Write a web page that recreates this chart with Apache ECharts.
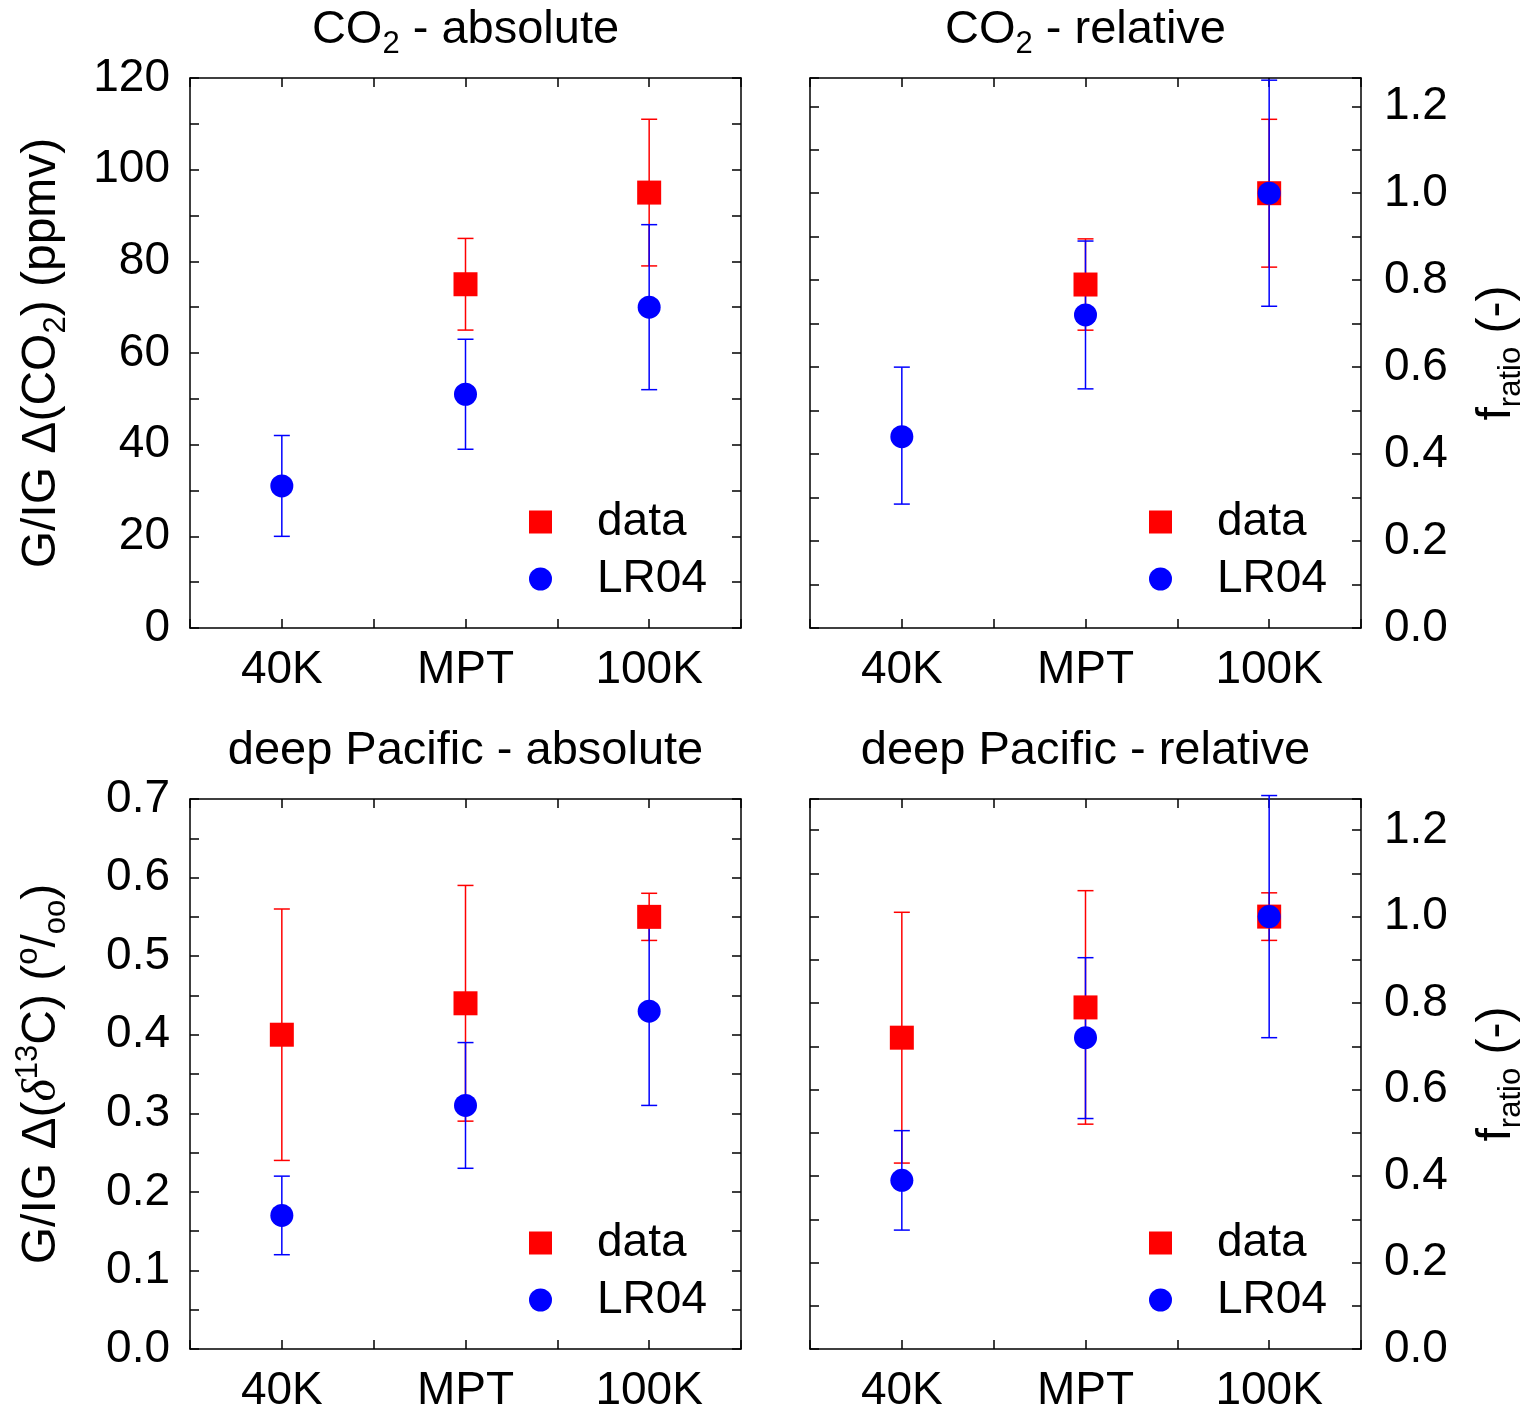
<!DOCTYPE html>
<html>
<head>
<meta charset="utf-8">
<script src="https://cdn.jsdelivr.net/npm/echarts@6/dist/echarts.min.js"></script>
<style>
  html, body { margin: 0; background: #fff; }
  #chart { width: 1527px; height: 1412px; }
</style>
</head>
<body>
<div id="chart"></div>
<script>
const periods = ['40K', 'MPT', '100K'];

// CO2 - absolute (ppmv)
const co2AbsData = [null, 75, 95];
const co2AbsDataLo = [null, 65, 79];
const co2AbsDataHi = [null, 85, 111];
const co2AbsLR04 = [31, 51, 70];
const co2AbsLR04Lo = [20, 39, 52];
const co2AbsLR04Hi = [42, 63, 88];

// CO2 - relative (f_ratio)
const co2RelData = [null, 0.79, 1.0];
const co2RelDataLo = [null, 0.685, 0.83];
const co2RelDataHi = [null, 0.895, 1.17];
const co2RelLR04 = [0.44, 0.72, 1.0];
const co2RelLR04Lo = [0.285, 0.55, 0.74];
const co2RelLR04Hi = [0.60, 0.89, 1.26];

// deep Pacific - absolute (permil)
const pacAbsData = [0.40, 0.44, 0.55];
const pacAbsDataLo = [0.24, 0.29, 0.52];
const pacAbsDataHi = [0.56, 0.59, 0.58];
const pacAbsLR04 = [0.17, 0.31, 0.43];
const pacAbsLR04Lo = [0.12, 0.23, 0.31];
const pacAbsLR04Hi = [0.22, 0.39, 0.55];

// deep Pacific - relative (f_ratio)
const pacRelData = [0.72, 0.79, 1.0];
const pacRelDataLo = [0.43, 0.52, 0.945];
const pacRelDataHi = [1.01, 1.06, 1.055];
const pacRelLR04 = [0.39, 0.72, 1.0];
const pacRelLR04Lo = [0.275, 0.533, 0.72];
const pacRelLR04Hi = [0.505, 0.905, 1.28];

const FONT = "'Liberation Sans', Arial, sans-serif";
const RED = '#ff0000';
const BLUE = '#0000ff';
const W = 551, H = 550;

// rich text styles: n normal, s subscript, p superscript, i italic greek
const makeRich = size => ({
  n: { fontSize: size, fontFamily: FONT, color: '#000' },
  s: { fontSize: Math.round(size * 0.65), fontFamily: FONT, color: '#000', padding: [Math.round(size * 0.6), 0, 0, 0] },
  p: { fontSize: Math.round(size * 0.65), fontFamily: FONT, color: '#000', padding: [0, 0, Math.round(size * 0.56), 0] },
  i: { fontSize: size, fontFamily: "'Liberation Serif', serif", fontStyle: 'italic', color: '#000' }
});
const titleRich = makeRich(47);
const nameRich = makeRich(48);

const everyStep = (step, digits) => v => {
  const q = v / step;
  return Math.abs(q - Math.round(q)) < 1e-6 ? v.toFixed(digits) : '';
};

const ratioName = '{n|f}{s|ratio}{n| (-)}';
const panels = [
  { left: 190, top: 78, title: '{n|CO}{s|2}{n| - absolute}', side: 'left', max: 120, step: 10,
    fmt: everyStep(20, 0), name: '{n|G/IG \u0394(CO}{s|2}{n|) (ppmv)}',
    d: [co2AbsData, co2AbsDataLo, co2AbsDataHi], l: [co2AbsLR04, co2AbsLR04Lo, co2AbsLR04Hi] },
  { left: 810, top: 78, title: '{n|CO}{s|2}{n| - relative}', side: 'right', max: 1.265, step: 0.1,
    fmt: everyStep(0.2, 1), name: ratioName,
    d: [co2RelData, co2RelDataLo, co2RelDataHi], l: [co2RelLR04, co2RelLR04Lo, co2RelLR04Hi] },
  { left: 190, top: 799, title: '{n|deep Pacific - absolute}', side: 'left', max: 0.7, step: 0.05,
    fmt: everyStep(0.1, 1), name: '{n|G/IG \u0394(}{i|\u03b4}{p|13}{n|C) (}{p|o}{n|/}{s|oo}{n|)}',
    d: [pacAbsData, pacAbsDataLo, pacAbsDataHi], l: [pacAbsLR04, pacAbsLR04Lo, pacAbsLR04Hi] },
  { left: 810, top: 799, title: '{n|deep Pacific - relative}', side: 'right', max: 1.272, step: 0.1,
    fmt: everyStep(0.2, 1), name: ratioName,
    d: [pacRelData, pacRelDataLo, pacRelDataHi], l: [pacRelLR04, pacRelLR04Lo, pacRelLR04Hi] }
];

const line = { color: '#000', width: 1.5 };
const grid = [], xAxis = [], yAxis = [], series = [], legend = [], graphic = [];

function errorBars(lo, hi, color, k) {
  return {
    type: 'custom', xAxisIndex: 2 * k, yAxisIndex: 2 * k, z: 2, silent: true,
    data: lo.map((v, i) => v == null ? null : [i + 1, v, hi[i]]).filter(Boolean),
    renderItem(params, api) {
      const a = api.coord([api.value(0), api.value(1)]);
      const b = api.coord([api.value(0), api.value(2)]);
      const c = 8, st = { stroke: color, lineWidth: 1.5 };
      return { type: 'group', children: [
        { type: 'line', shape: { x1: a[0], y1: a[1], x2: b[0], y2: b[1] }, style: st },
        { type: 'line', shape: { x1: a[0] - c, y1: a[1], x2: a[0] + c, y2: a[1] }, style: st },
        { type: 'line', shape: { x1: b[0] - c, y1: b[1], x2: b[0] + c, y2: b[1] }, style: st }
      ] };
    }
  };
}

const points = vals => vals.map((v, i) => v == null ? null : [i + 1, v]).filter(Boolean);

panels.forEach((p, k) => {
  grid.push({ left: p.left, top: p.top, width: W, height: H, outerBoundsMode: 'none', containLabel: false });

  const xBase = {
    gridIndex: k, type: 'value', min: 0.5, max: 3.5, interval: 0.5,
    axisLine: { onZero: false, lineStyle: line },
    axisTick: { inside: true, length: 9, lineStyle: line },
    splitLine: { show: false }
  };
  xAxis.push({ ...xBase, position: 'bottom',
    axisLabel: { margin: 19, fontSize: 46, fontFamily: FONT, color: '#000',
      formatter: v => Math.abs(v - Math.round(v)) < 1e-6 ? (periods[Math.round(v) - 1] || '') : '' } });
  xAxis.push({ ...xBase, position: 'top', axisLabel: { show: false } });

  const yBase = {
    gridIndex: k, type: 'value', min: 0, max: p.max, interval: p.step,
    axisLine: { onZero: false, lineStyle: line },
    axisTick: { inside: true, length: 9, lineStyle: line },
    splitLine: { show: false }
  };
  const labelled = {
    axisLabel: { margin: p.side === 'left' ? 20 : 23, fontSize: 46, fontFamily: FONT, color: '#000', formatter: p.fmt },
    name: p.name, nameLocation: 'middle', nameRotate: 90,
    nameGap: p.side === 'left' ? 118 : 106,
    nameTextStyle: { rich: nameRich }
  };
  const bare = { axisLabel: { show: false } };
  yAxis.push({ ...yBase, position: 'left', ...(p.side === 'left' ? labelled : bare) });
  yAxis.push({ ...yBase, position: 'right', ...(p.side === 'right' ? labelled : bare) });

  series.push(errorBars(p.d[1], p.d[2], RED, k));
  series.push(errorBars(p.l[1], p.l[2], BLUE, k));
  series.push({ name: 'data', type: 'scatter', xAxisIndex: 2 * k, yAxisIndex: 2 * k, z: 3,
    symbol: 'rect', symbolSize: 24, itemStyle: { color: RED, opacity: 1 }, data: points(p.d[0]) });
  series.push({ name: 'LR04', type: 'scatter', xAxisIndex: 2 * k, yAxisIndex: 2 * k, z: 4,
    symbol: 'circle', symbolSize: 23, itemStyle: { color: BLUE, opacity: 1 }, data: points(p.l[0]) });

  legend.push({
    left: p.left + 334, top: p.top + 416, orient: 'vertical', padding: 5,
    itemWidth: 23, itemHeight: 23, itemGap: 11, selectedMode: false,
    data: [{ name: 'data', icon: 'rect' }, { name: 'LR04', icon: 'circle' }],
    textStyle: { fontSize: 46, fontFamily: FONT, color: '#000', lineHeight: 46, padding: [0, 0, 0, 40] }
  });

  graphic.push({
    type: 'text', x: p.left + W / 2, y: p.top - 48,
    style: { text: p.title, rich: titleRich, textAlign: 'center', textVerticalAlign: 'middle',
      align: 'center', verticalAlign: 'middle' }
  });
});

const chart = echarts.init(document.getElementById('chart'));
chart.setOption({
  animation: false,
  backgroundColor: '#fff',
  grid, xAxis, yAxis, series, legend, graphic
});
</script>
</body>
</html>
